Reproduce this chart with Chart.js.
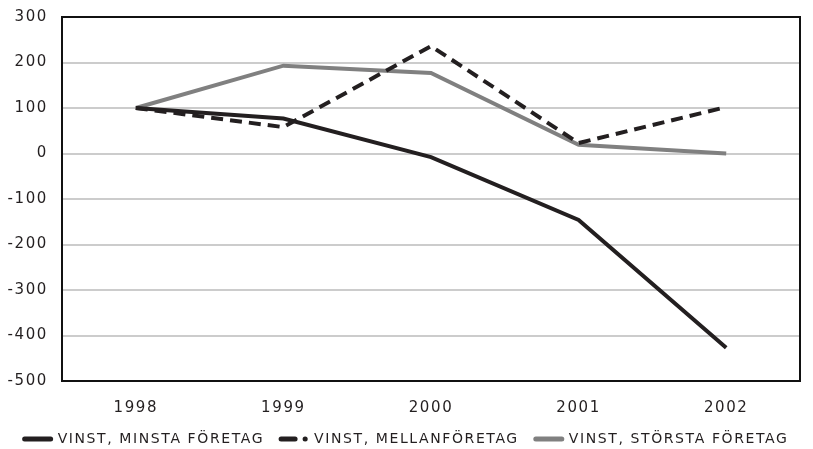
<!DOCTYPE html>
<html>
<head>
<meta charset="utf-8">
<script src="https://cdn.jsdelivr.net/npm/chart.js@4.4.0/dist/chart.umd.min.js"></script>
<style>
  html, body { margin: 0; padding: 0; background: #fff; }
  #wrap { width: 813px; height: 449px; }
</style>
</head>
<body>
<div id="wrap"><canvas id="chart"></canvas></div>
<script>
// Data
const years = ['1998', '1999', '2000', '2001', '2002'];
const minsta = [100, 77, -8, -146, -427];
const mellan = [100, 58, 236, 23, 102];
const storsta = [100, 193, 177, 19, 0];
const yTicks = [300, 200, 100, 0, -100, -200, -300, -400, -500];

const FONT = '"DejaVu Sans", sans-serif';
const INK = '#231f20';

// letter spacing for all canvas text (reset each time the canvas is resized)
const spacing = {
    id: 'spacing',
    beforeUpdate(chart) { chart.ctx.letterSpacing = '1.6px'; },
    beforeDraw(chart) { chart.ctx.letterSpacing = '1.6px'; }
};

// draw the black frame round the plot area
const frame = {
    id: 'frame',
    afterDraw(chart) {
        const a = chart.chartArea;
        const ctx = chart.ctx;
        ctx.save();
        ctx.strokeStyle = '#111';
        ctx.lineWidth = 2;
        ctx.strokeRect(a.left, a.top, a.right - a.left, a.bottom - a.top);
        ctx.restore();
    }
};

new Chart(document.getElementById('chart'), {
    type: 'line',
    data: {
        labels: years,
        datasets: [
            {
                label: 'VINST, MINSTA FÖRETAG',
                data: minsta,
                borderColor: INK,
                backgroundColor: INK,
                borderWidth: 4,
                pointRadius: 0,
                order: 2
            },
            {
                label: 'VINST, MELLANFÖRETAG',
                data: mellan,
                borderColor: INK,
                backgroundColor: INK,
                borderWidth: 4,
                borderDash: [12, 7],
                pointRadius: 0,
                order: 1
            },
            {
                label: 'VINST, STÖRSTA FÖRETAG',
                data: storsta,
                borderColor: '#808080',
                backgroundColor: '#808080',
                borderWidth: 4,
                pointRadius: 0,
                order: 3
            }
        ]
    },
    options: {
        responsive: true,
        maintainAspectRatio: false,
        animation: false,
        layout: { padding: { top: 17, right: 0, left: 0, bottom: -7 } },
        plugins: {
            legend: {
                position: 'bottom',
                labels: {
                    usePointStyle: true,
                    pointStyle: 'line',
                    pointStyleWidth: 26,
                    boxHeight: 6,
                    color: INK,
                    padding: 17,
                    font: { family: FONT, size: 14 },
                    sort: (a, b) => a.datasetIndex - b.datasetIndex,
                    generateLabels(chart) {
                        const items = Chart.defaults.plugins.legend.labels.generateLabels(chart);
                        items.forEach(item => {
                            item.lineWidth = 5;
                            item.lineCap = 'round';
                            item.lineDash = item.datasetIndex === 1 ? [14, 10, 0.1, 100] : [];
                        });
                        return items;
                    }
                }
            },
            tooltip: { enabled: false }
        },
        scales: {
            x: {
                offset: true,
                grid: { display: false, drawTicks: false },
                border: { display: false },
                ticks: { color: INK, padding: 18, font: { family: FONT, size: 15 } },
                afterFit(scale) { scale.height = 34; }
            },
            y: {
                min: -500,
                max: 300,
                afterBuildTicks(scale) { scale.ticks = yTicks.map(v => ({ value: v })); },
                grid: { color: '#cccccc', lineWidth: 2, drawTicks: false },
                border: { display: false },
                ticks: { color: INK, padding: 14, font: { family: FONT, size: 15 } },
                afterFit(scale) {
                    scale.width = 62;
                    scale.paddingTop = 0;
                    scale.paddingBottom = 0;
                }
            },
            // empty right margin, so the legend can use the full width
            yRight: {
                position: 'right',
                min: -500,
                max: 300,
                grid: { display: false, drawTicks: false },
                border: { display: false },
                ticks: { display: false },
                afterFit(scale) {
                    scale.width = 13;
                    scale.paddingTop = 0;
                    scale.paddingBottom = 0;
                }
            }
        }
    },
    plugins: [spacing, frame]
});
</script>
</body>
</html>
